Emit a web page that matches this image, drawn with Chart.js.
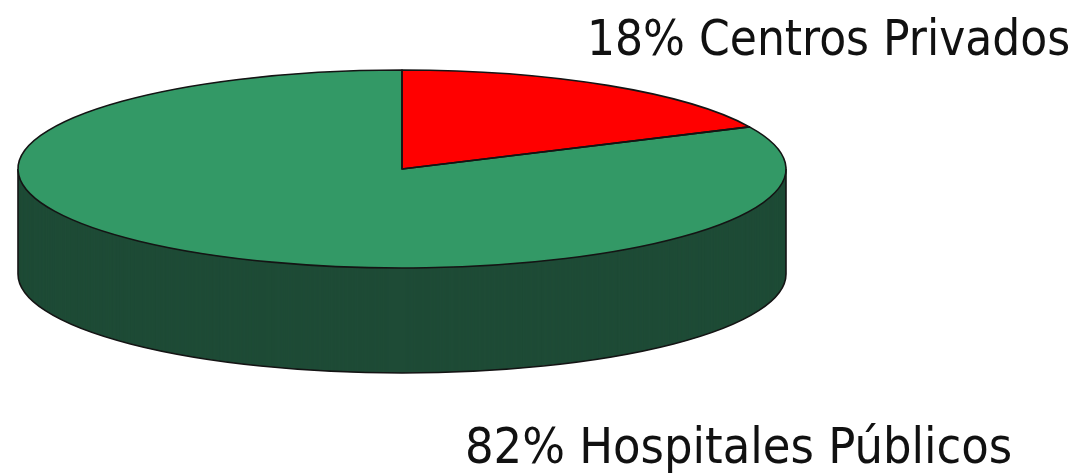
<!doctype html>
<html>
<head>
<meta charset="utf-8">
<title>Centros Privados / Hospitales Públicos</title>
<style>
  body { margin: 0; background: #fff; }
  canvas { display: block; }
</style>
</head>

<body>
  <canvas id="myChart" width="1079" height="474"></canvas>
  <script src="https://cdn.jsdelivr.net/npm/chart.js@4.4.1/dist/chart.umd.min.js"></script>
  <script>
    const categories = ['Centros Privados', 'Hospitales Públicos'];
    const shares = [18, 82];
    const topColors = ['#ff0000', '#339966'];
  </script>
  <script>
    // where the tilted disc sits on the canvas
    const disc = { cx: 402, cy: 169, rx: 384, ry: 99, depth: 105, side: '#1e4b36', edge: '#141414' };
    // label anchors (left edge, baseline, font size)
    const labelPos = [[587, 55, 49], [465, 463, 50]];

    // map the flat pie drawn by Chart.js onto the tilted ellipse, pushed down by d
    function view(ctx, arc, d) {
      ctx.translate(disc.cx, disc.cy + d);
      ctx.scale(disc.rx / arc.outerRadius, disc.ry / arc.outerRadius);
      ctx.translate(-arc.x, -arc.y);
    }

    function strokeEdge(ctx) {
      ctx.lineWidth = 1.6;
      ctx.strokeStyle = disc.edge;
      ctx.lineJoin = 'round';
      ctx.stroke();
    }

    const pie3d = {
      id: 'pie3d',
      beforeDatasetsDraw(chart) {
        const ctx = chart.ctx;
        const arcs = chart.getDatasetMeta(0).data;
        const a = arcs[0];

        // side wall: darker copies of the slices stacked downwards
        for (let d = disc.depth; d > 0; d--) {
          ctx.save();
          view(ctx, a, d);
          arcs.forEach(function(el) {
            const copy = Object.create(el);
            copy.options = Object.assign({}, el.options, { backgroundColor: disc.side });
            copy.draw(ctx);
          });
          ctx.restore();
        }

        // outline of the wall: both vertical edges and the front of the base
        ctx.beginPath();
        ctx.save(); view(ctx, a, 0); ctx.moveTo(a.x + a.outerRadius, a.y); ctx.restore();
        ctx.save(); view(ctx, a, disc.depth);
        ctx.lineTo(a.x + a.outerRadius, a.y);
        ctx.arc(a.x, a.y, a.outerRadius, 0, Math.PI);
        ctx.restore();
        ctx.save(); view(ctx, a, 0); ctx.lineTo(a.x - a.outerRadius, a.y); ctx.restore();
        strokeEdge(ctx);

        // top face is drawn by Chart.js inside this transform
        ctx.save();
        view(ctx, a, 0);
      },
      afterDatasetsDraw(chart) {
        const ctx = chart.ctx;
        ctx.restore();
        chart.getDatasetMeta(0).data.forEach(function(el) {
          ctx.beginPath();
          ctx.save();
          view(ctx, el, 0);
          ctx.moveTo(el.x, el.y);
          ctx.arc(el.x, el.y, el.outerRadius, el.startAngle, el.endAngle);
          ctx.closePath();
          ctx.restore();
          strokeEdge(ctx);
        });
      },
      afterDraw(chart) {
        const ctx = chart.ctx;
        ctx.save();
        ctx.fillStyle = '#111';
        ctx.textAlign = 'left';
        ctx.textBaseline = 'alphabetic';
        categories.forEach(function(name, i) {
          const p = labelPos[i];
          ctx.font = p[2] + 'px "DejaVu Sans Condensed", "DejaVu Sans", sans-serif';
          ctx.fillText(shares[i] + '% ' + name, p[0], p[1]);
        });
        ctx.restore();
      }
    };

    const ctx = document.getElementById('myChart');
    var myChart = new Chart(ctx, {
      type: 'pie',
      data: {
        labels: categories,
        datasets: [{
          data: shares,
          backgroundColor: topColors,
          borderWidth: 0,
          clip: false
        }]
      },
      options: {
        responsive: false,
        animation: false,
        radius: '80%',
        plugins: {
          legend: { display: false },
          tooltip: { enabled: false }
        }
      },
      plugins: [pie3d]
    });
  </script>
</body>
</html>
